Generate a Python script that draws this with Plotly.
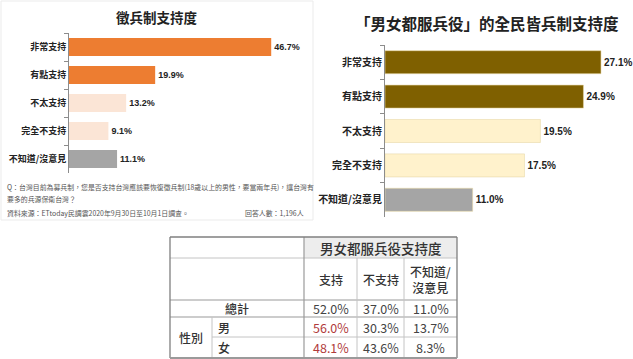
import plotly.graph_objects as go

# ---------------- data ----------------
categories = ["非常支持", "有點支持", "不太支持", "完全不支持", "不知道/沒意見"]
conscription_pct = [46.7, 19.9, 13.2, 9.1, 11.1]
universal_pct = [27.1, 24.9, 19.5, 17.5, 11.0]

table_title = "男女都服兵役支持度"
table_cols = ["支持", "不支持", "不知道/<br>沒意見"]
table_rows = ["總計", "男", "女"]
table_group = "性別"
table_vals = [
    [52.0, 37.0, 11.0],
    [56.0, 30.3, 13.7],
    [48.1, 43.6, 8.3],
]

left_title = "徵兵制支持度"
right_title = "「男女都服兵役」的全民皆兵制支持度"
note_q1 = "Q：台灣目前為募兵制，您是否支持台灣應該要恢復徵兵制(18歲以上的男性，要當兩年兵)，讓台灣有"
note_q2 = "要多的兵源保衛台灣？"
note_src = "資料來源：ETtoday民調雲2020年9月30日至10月1日調查。"
note_n = "回答人數：1,196人"

# ---------------- styles ----------------
W, H = 633, 359
CJK = "Noto Sans CJK TC"
NUM = "Liberation Sans, Noto Sans CJK TC"
left_colors = ["#ED7D31", "#ED7D31", "#FBE5D6", "#FBE5D6", "#A5A5A5"]
right_colors = ["#7F6000", "#7F6000", "#FFF2CC", "#FFF2CC", "#A5A5A5"]


def px_dom_x(a, b):
    return [a / W, b / W]


def px_dom_y(top, bottom):
    return [1 - bottom / H, 1 - top / H]


# left chart geometry (pixels)
L_x0, L_x1, L_scale = 69, 300, 4.33
L_top, L_bot = 33, 173
# right chart geometry
R_x0, R_x1, R_scale = 385, 625, 7.97
R_top, R_bot = 45, 217

fig = go.Figure()

fig.add_trace(go.Bar(
    x=conscription_pct, y=categories, orientation="h",
    marker=dict(color=left_colors, line=dict(width=0)),
    text=[f"{v:.1f}%" for v in conscription_pct], textposition="outside",
    textfont=dict(family=NUM, size=9, color="#222", weight="bold"),
    cliponaxis=False, width=0.64, xaxis="x", yaxis="y", showlegend=False,
))
fig.add_trace(go.Bar(
    x=universal_pct, y=categories, orientation="h",
    marker=dict(color=right_colors, line=dict(width=0.6, color="#E8D9A8")),
    text=[f"{v:.1f}%" for v in universal_pct], textposition="outside",
    textfont=dict(family=NUM, size=10, color="#222", weight="bold"),
    cliponaxis=False, width=0.67, xaxis="x2", yaxis="y2", showlegend=False,
))

yax_common = dict(
    type="category", categoryorder="array", categoryarray=categories,
    autorange="reversed", showline=True, linecolor="#8C8C8C", linewidth=1,
    ticks="outside", tickson="boundaries", ticklen=4, tickcolor="#8C8C8C",
    showgrid=False, zeroline=False, fixedrange=True,
)
xax_common = dict(visible=False, showgrid=False, zeroline=False, fixedrange=True)

fig.update_layout(
    width=W, height=H, autosize=False,
    margin=dict(l=0, r=0, t=0, b=0),
    paper_bgcolor="white", plot_bgcolor="rgba(0,0,0,0)",
    bargap=0.3,
    xaxis=dict(xax_common, domain=px_dom_x(L_x0, L_x1),
               range=[0, (L_x1 - L_x0) / L_scale], anchor="y"),
    yaxis=dict(yax_common, domain=px_dom_y(L_top, L_bot), anchor="x",
               tickfont=dict(family=CJK, size=9, color="#222", weight="bold")),
    xaxis2=dict(xax_common, domain=px_dom_x(R_x0, R_x1),
                range=[0, (R_x1 - R_x0) / R_scale], anchor="y2"),
    yaxis2=dict(yax_common, domain=px_dom_y(R_top, R_bot), anchor="x2",
                tickfont=dict(family=CJK, size=10, color="#222", weight="bold")),
    xaxis3=dict(visible=False, domain=[0, 1], range=[0, W], fixedrange=True, anchor="y3"),
    yaxis3=dict(visible=False, domain=[0, 1], range=[H, 0], fixedrange=True, anchor="x3"),
)

shapes = []
ann = []


def text(x, y, s, size, color="#333", xanchor="center", family=CJK, weight="normal"):
    ann.append(dict(x=x, y=y, xref="x3", yref="y3", text=s, showarrow=False,
                    xanchor=xanchor, yanchor="middle",
                    font=dict(family=family, size=size, color=color, weight=weight)))


def line(x0, y0, x1, y1, color="#C8C8C8", width=1):
    shapes.append(dict(type="line", xref="x3", yref="y3", x0=x0, y0=y0, x1=x1, y1=y1,
                       line=dict(color=color, width=width), layer="above"))


# faint frame of left panel
shapes.append(dict(type="rect", xref="x3", yref="y3", x0=1, y0=1, x1=313, y1=220,
                   line=dict(color="#EBEBEB", width=1), layer="below"))

# titles and notes
text(157, 17, left_title, 13.5, "#222", weight="bold")
text(487, 23, right_title, 15.5, "#222", weight="bold")
text(5, 187, note_q1, 6.9, "#555", xanchor="left")
text(5, 199, note_q2, 6.9, "#555", xanchor="left")
text(5, 213, note_src, 6.9, "#555", xanchor="left")
text(306, 213, note_n, 6.9, "#555", xanchor="right")

# ---------------- table ----------------
col_x = [170, 212, 304, 357, 404, 457]
row_y = [237, 258, 300, 317, 337, 358]

shapes.append(dict(type="rect", xref="x3", yref="y3", x0=col_x[2], y0=row_y[0],
                   x1=col_x[5], y1=row_y[1], fillcolor="#EDEDED",
                   line=dict(width=0), layer="below"))

inner = "#C4C4C4"
outer = "#7F7F7F"
# horizontal inner lines
line(col_x[0], row_y[1], col_x[5], row_y[1], inner)
line(col_x[0], row_y[2], col_x[5], row_y[2], "#9A9A9A", 1.2)
line(col_x[0], row_y[3], col_x[5], row_y[3], "#9A9A9A", 1.2)
line(col_x[1], row_y[4], col_x[5], row_y[4], inner)
# vertical inner lines
line(col_x[2], row_y[0], col_x[2], row_y[5], "#9A9A9A", 1.2)
line(col_x[3], row_y[1], col_x[3], row_y[5], inner)
line(col_x[4], row_y[1], col_x[4], row_y[5], inner)
line(col_x[1], row_y[3], col_x[1], row_y[5], inner)
# outer border
line(col_x[0], row_y[0], col_x[5], row_y[0], outer, 1.3)
line(col_x[0], row_y[0], col_x[0], row_y[5], outer, 1.3)
line(col_x[5], row_y[0], col_x[5], row_y[5], outer, 1.3)
line(col_x[0], row_y[5], col_x[5], row_y[5], "#9A9A9A", 2)

# header texts
text((col_x[2] + col_x[5]) / 2, (row_y[0] + row_y[1]) / 2, table_title, 13.5, "#333",
     weight=500)
for j, c in enumerate(table_cols):
    text((col_x[2 + j] + col_x[3 + j]) / 2, (row_y[1] + row_y[2]) / 2, c, 12, "#333",
         weight=500)

# row labels
text((col_x[0] + col_x[2]) / 2, (row_y[2] + row_y[3]) / 2, table_rows[0], 12, "#333",
     weight=500)
text((col_x[0] + col_x[1]) / 2, (row_y[3] + row_y[5]) / 2, table_group, 12, "#333",
     weight=500)
for i in (1, 2):
    text(col_x[1] + 4, (row_y[2 + i] + row_y[3 + i]) / 2, table_rows[i], 12, "#333",
         xanchor="left", weight=500)

# values
for i, rowv in enumerate(table_vals):
    for j, v in enumerate(rowv):
        color = "#B03A3A" if (j == 0 and i > 0) else "#444"
        text((col_x[2 + j] + col_x[3 + j]) / 2, (row_y[2 + i] + row_y[3 + i]) / 2,
             f"{v:.1f}%", 12.5, color)

fig.update_layout(shapes=shapes, annotations=ann)
fig.write_html("out.html")
